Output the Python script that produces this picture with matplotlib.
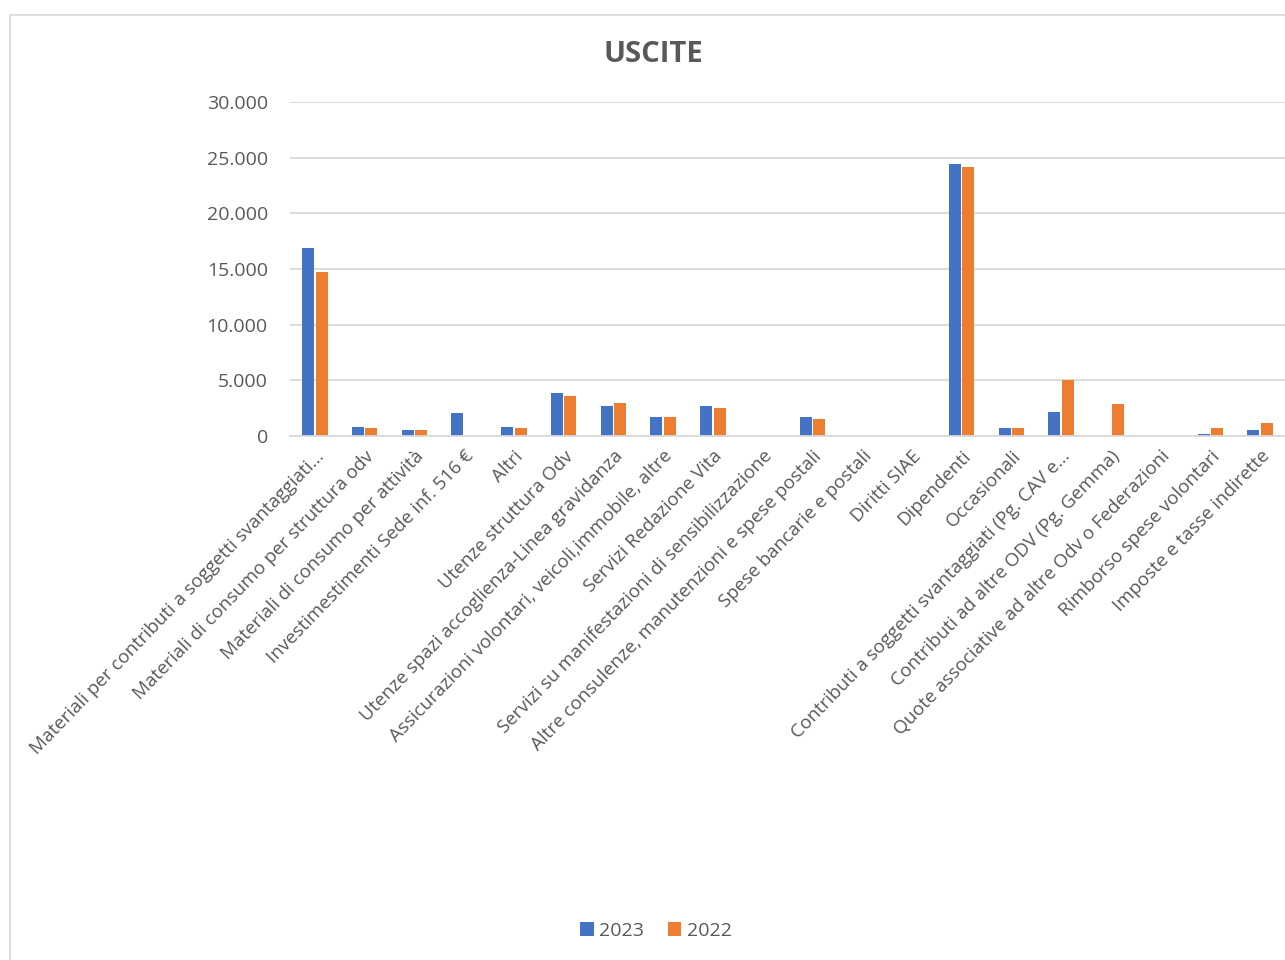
import matplotlib.pyplot as plt
import numpy as np
from matplotlib.patches import Rectangle

categorie = [
    "Materiali per contributi a soggetti svantaggiati...",
    "Materiali di consumo per struttura odv",
    "Materiali di consumo per attività",
    "Investimestimenti Sede inf. 516 €",
    "Altri",
    "Utenze struttura Odv",
    "Utenze spazi accoglienza-Linea gravidanza",
    "Assicurazioni volontari, veicoli,immobile, altre",
    "Servizi Redazione Vita",
    "Servizi su manifestazioni di sensibilizzazione",
    "Altre consulenze, manutenzioni e spese postali",
    "Spese bancarie e postali",
    "Diritti SIAE",
    "Dipendenti",
    "Occasionali",
    "Contributi a soggetti svantaggiati (Pg. CAV e...",
    "Contributi ad altre ODV (Pg. Gemma)",
    "Quote associative ad altre Odv o Federazioni",
    "Rimborso spese volontari",
    "Imposte e tasse indirette",
]

uscite_2023 = [16900, 850, 540, 2040, 850, 3890, 2720, 1700, 2720, 0,
               1680, 0, 0, 24450, 690, 2190, 0, 0, 180, 540]
uscite_2022 = [14700, 690, 520, 0, 700, 3590, 2930, 1680, 2540, 0,
               1530, 0, 0, 24120, 690, 5030, 2870, 0, 690, 1200]

plt.rcParams['font.family'] = ['Open Sans', 'DejaVu Sans']
grigio = '#595959'

fig = plt.figure(figsize=(12.85, 9.6), dpi=100)
# cornice del grafico
fig.patches.append(Rectangle((10 / 1285, -0.01), 1.0, (945 + 10) / 960,
                             transform=fig.transFigure, fill=False,
                             edgecolor='#D9D9D9', linewidth=1.2))

ax = fig.add_axes([290 / 1285, 1 - 436 / 960, 995 / 1285, (436 - 102) / 960])

x = np.arange(len(categorie))
w = 0.24
ax.bar(x - w / 2 - 0.015, uscite_2023, w, color='#4472C4', label='2023')
ax.bar(x + w / 2 + 0.015, uscite_2022, w, color='#ED7D31', label='2022')

ax.set_xlim(-0.5, len(categorie) - 0.5)
ax.set_ylim(0, 30000)
ax.set_yticks(range(0, 30001, 5000))
ax.set_yticklabels(['0', '5.000', '10.000', '15.000', '20.000', '25.000', '30.000'],
                   color=grigio, fontsize=14)
ax.yaxis.grid(True, color='#D9D9D9', linewidth=1.3)
ax.set_axisbelow(True)
for s in ['top', 'right', 'left']:
    ax.spines[s].set_visible(False)
ax.spines['bottom'].set_color('#D9D9D9')
ax.spines['bottom'].set_linewidth(1.3)
ax.tick_params(axis='y', length=0, pad=16)

ax.set_xticks(x)
ax.set_xticklabels(categorie, rotation=46, ha='right', rotation_mode='anchor',
                   color=grigio, fontsize=13.5)
ax.tick_params(axis='x', length=0, pad=8)

fig.text(653 / 1285, 1 - 55 / 960, 'USCITE', ha='center', va='center',
         fontsize=21, fontweight='bold', color=grigio)

fig.legend(loc='center', bbox_to_anchor=(656 / 1285, 1 - 931 / 960), ncol=2,
           frameon=False, fontsize=14, handlelength=0.7, handleheight=0.7,
           handletextpad=0.3, columnspacing=1.2, labelcolor=grigio)

fig.savefig('out.png', dpi=100)
